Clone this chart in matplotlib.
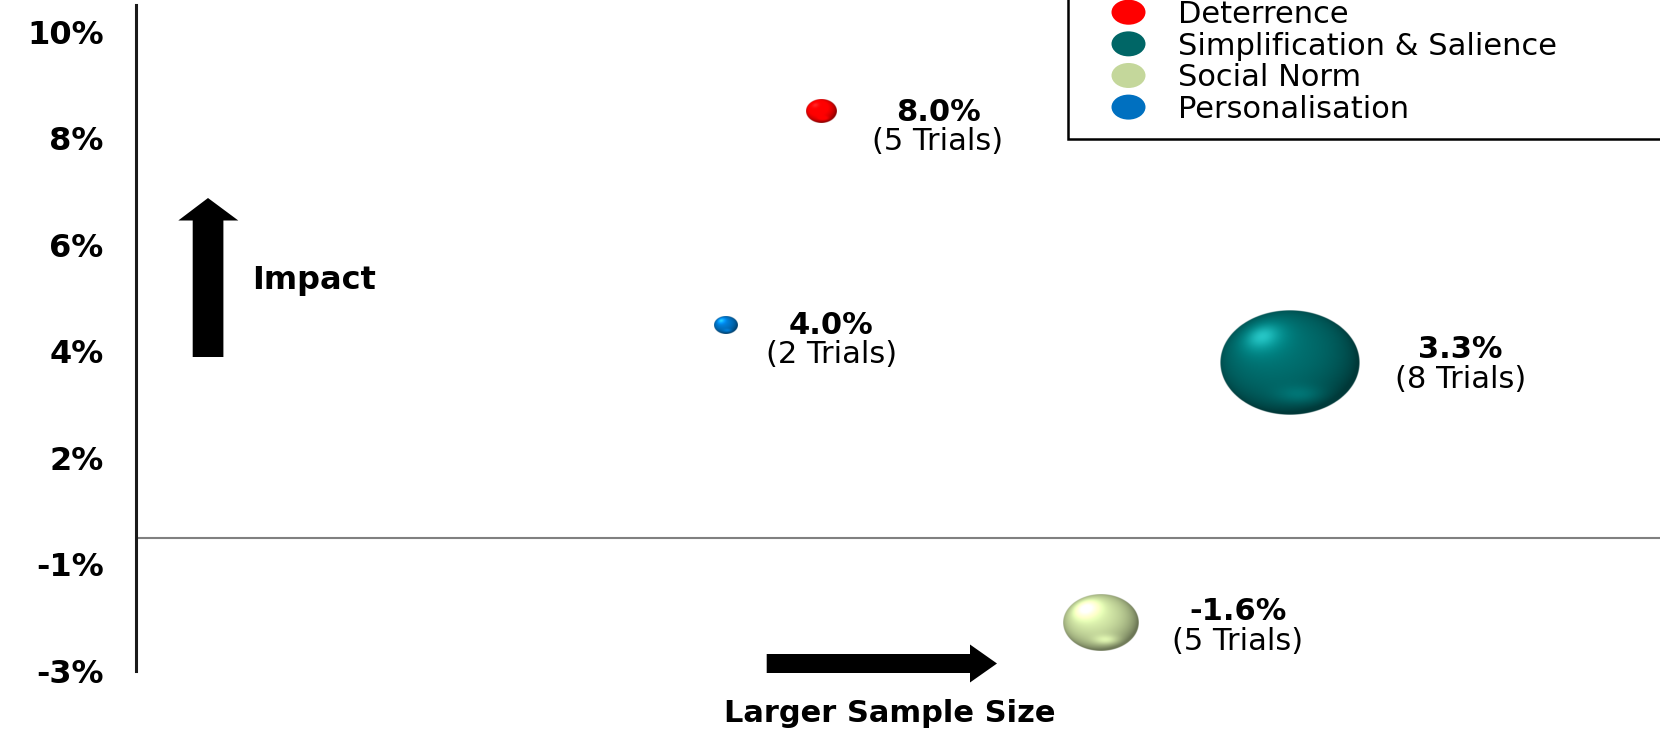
import numpy as np
import matplotlib
matplotlib.use("Agg")
import matplotlib.pyplot as plt
from matplotlib.colors import to_rgb
from matplotlib.patches import Polygon, Ellipse, Patch
from matplotlib.legend_handler import HandlerPatch

# ---- data -------------------------------------------------------------
categories = ["Deterrence", "Simplification & Salience", "Social Norm", "Personalisation"]
impact = [8.0, 3.3, -1.6, 4.0]            # average effect (%)
trials = [5, 8, 5, 2]                     # number of trials
sample_pos = [45.0, 75.7, 63.3, 38.7]     # relative sample size (x position)
bubble_size = [4.9, 100.0, 28.7, 2.8]     # relative bubble area
colors = ["#FF0000", "#006666", "#C4D79B", "#0070C0"]

ytick_pos = [-2.5, -0.5, 1.5, 3.5, 5.5, 7.5, 9.5]
ytick_labels = ["-3%", "-1%", "2%", "4%", "6%", "8%", "10%"]

# ---- layout (pixels) --------------------------------------------------
W, H = 1660, 730
AX_L, AX_T, AX_B = 135.5, 5.3, 671.0
X_MIN, X_MAX = 0.0, 100.0
Y_MIN, Y_MAX = -2.5, 10.0
MAX_BUBBLE_W = 140.0      # pixel width of the largest bubble
BUBBLE_ASPECT = 1.335     # bubbles are drawn wider than tall
label_shift = {"Deterrence": 0, "Personalisation": 0,
               "Simplification & Salience": -13, "Social Norm": -12}
label_gap = {"Deterrence": 101, "Personalisation": 94,
             "Simplification & Salience": 101, "Social Norm": 100}

TICK_FS = 23
VAL_FS = 22
TRIAL_FS = 22
LEG_FS = 22
NOTE_FS = 22


def fx(x):
    return x / W


def fy(y):
    return 1 - y / H


def unit(vec):
    vec = np.asarray(vec, dtype=float)
    return vec / np.linalg.norm(vec)


def sphere_image(hex_color, n=300):
    base = np.array(to_rgb(hex_color))
    t = np.linspace(-1, 1, n)
    u, v = np.meshgrid(t, -t)
    r = np.sqrt(u ** 2 + v ** 2)
    z = np.sqrt(np.clip(1 - r ** 2, 0, 1))
    L1 = unit([-0.25, 0.3, 0.92])     # broad diffuse light
    L2 = unit([-0.4, 0.5, 0.77])      # highlight direction
    diff = np.clip(u * L1[0] + v * L1[1] + z * L1[2], 0, 1)
    spot = np.clip(u * L2[0] + v * L2[1] + z * L2[2], 0, 1)
    factor = 0.55 + 0.58 * diff + 0.45 * spot ** 14
    rgb = base[None, None, :] * factor[..., None] + 0.15 * (spot ** 40)[..., None]
    bounce = np.exp(-((u - 0.15) ** 2 / 0.12 + (v + 0.62) ** 2 / 0.03))
    rgb = rgb + base[None, None, :] * 0.3 * bounce[..., None]
    rgb = np.clip(rgb, 0, 1)
    alpha = np.clip((1 - r) * n / 2, 0, 1)
    return np.dstack([rgb, alpha])


fig = plt.figure(figsize=(W / 100, H / 100), dpi=100)
fig.patch.set_facecolor("white")
ax = fig.add_axes([fx(AX_L), fy(AX_B), (W - AX_L) / W, (AX_B - AX_T) / H])

px_per_x = (W - AX_L) / (X_MAX - X_MIN)
px_per_y = (AX_B - AX_T) / (Y_MAX - Y_MIN)

# zero line
ax.axhline(0, color="#808080", lw=1.5, zorder=1)

# shaded bubbles with value / trial-count labels to the right
val_px = VAL_FS * 100 / 72
tr_px = TRIAL_FS * 100 / 72
for cat, x, y, s, n, c in zip(categories, sample_pos, impact, bubble_size, trials, colors):
    w_px = MAX_BUBBLE_W * np.sqrt(s / 100.0)
    h_px = w_px / BUBBLE_ASPECT
    w = w_px / px_per_x
    h = h_px / px_per_y
    ax.imshow(sphere_image(c), extent=[x - w / 2, x + w / 2, y - h / 2, y + h / 2],
              origin="upper", interpolation="bilinear", aspect="auto", zorder=3)

    dx = w_px / 2 + label_gap[cat]
    shift = label_shift[cat]
    # baselines measured downward from the bubble centre
    b1 = shift - 2 + 0.3645 * val_px
    b2 = shift + 29 + 0.315 * tr_px
    ax.annotate(f"{y:.1f}%", xy=(x, y), xytext=(dx, -b1), textcoords="offset pixels",
                ha="center", va="baseline", fontsize=VAL_FS, fontweight="bold",
                color="black", zorder=4)
    ax.annotate(f"({n} Trials)", xy=(x, y), xytext=(dx, -b2), textcoords="offset pixels",
                ha="center", va="baseline", fontsize=TRIAL_FS, color="black", zorder=4)

ax.set_xlim(X_MIN, X_MAX)
ax.set_ylim(Y_MIN, Y_MAX)

for side in ["top", "right", "bottom"]:
    ax.spines[side].set_visible(False)
ax.spines["left"].set_color("#1a1a1a")
ax.spines["left"].set_linewidth(2.2)
ax.set_xticks([])
ax.set_yticks(ytick_pos)
ax.set_yticklabels(ytick_labels, fontsize=TICK_FS, fontweight="bold")
ax.tick_params(axis="y", length=0, pad=23)
ax.set_facecolor("none")


# legend with elliptical swatches
class HandlerEllipse(HandlerPatch):
    def create_artists(self, legend, orig_handle, xdescent, ydescent,
                       width, height, fontsize, trans):
        center = (0.5 * width - xdescent, 0.5 * height - ydescent)
        p = Ellipse(xy=center, width=34 * 0.72, height=25 * 0.72)
        self.update_prop(p, orig_handle, legend)
        p.set_transform(trans)
        return [p]


handles = [Patch(facecolor=c, edgecolor="none") for c in colors]
leg_fs_px = LEG_FS * 100 / 72
pad_px = 15.0
LEG_X0 = 1068.0
SWATCH_CX = 1128.5
TEXT_X0 = 1178.0
handle_px = 2 * (SWATCH_CX - LEG_X0 - pad_px)
leg = fig.legend(handles, categories, loc="lower left",
                 bbox_to_anchor=(fx(LEG_X0), fy(138.8), (1720 - LEG_X0) / W, 0.0),
                 mode="expand", borderaxespad=0, fontsize=LEG_FS,
                 borderpad=pad_px / leg_fs_px, handlelength=handle_px / leg_fs_px,
                 handletextpad=(TEXT_X0 - LEG_X0 - pad_px - handle_px) / leg_fs_px,
                 labelspacing=0.086,
                 fancybox=False, frameon=True, framealpha=1.0,
                 handler_map={Patch: HandlerEllipse()})
frame = leg.get_frame()
frame.set_edgecolor("black")
frame.set_linewidth(1.8)
frame.set_facecolor("white")

# direction arrows
up = [(192.7, 357), (223.4, 357), (223.4, 220.5), (238.3, 220.5),
      (208.0, 198.0), (178.3, 220.5), (192.7, 220.5)]
fig.patches.append(Polygon([(fx(a), fy(b)) for a, b in up], closed=True,
                           transform=fig.transFigure, facecolor="black",
                           edgecolor="none"))
right = [(766.7, 654.0), (970.0, 654.0), (970.0, 644.5), (997.0, 663.5),
         (970.0, 682.5), (970.0, 673.0), (766.7, 673.0)]
fig.patches.append(Polygon([(fx(a), fy(b)) for a, b in right], closed=True,
                           transform=fig.transFigure, facecolor="black",
                           edgecolor="none"))

note_px = NOTE_FS * 100 / 72
fig.text(fx(314), fy(277.4 + 0.3645 * note_px), "Impact", ha="center", va="baseline",
         fontsize=23, fontweight="bold")
fig.text(fx(890), fy(710.5 + 0.3645 * note_px), "Larger Sample Size", ha="center",
         va="baseline", fontsize=NOTE_FS, fontweight="bold")

fig.savefig("out.png", dpi=100, facecolor="white")
